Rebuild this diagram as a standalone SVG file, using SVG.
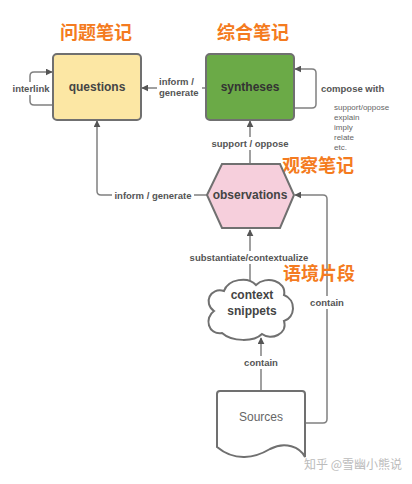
<svg xmlns="http://www.w3.org/2000/svg" width="412" height="484" viewBox="0 0 412 484">
<style>
.title{font-family:"Noto Sans CJK SC","Noto Sans",sans-serif;font-size:18px;font-weight:bold;fill:#F47B20;text-anchor:middle}
.node{font-family:"Liberation Sans",Arial,sans-serif;font-size:12px;font-weight:bold;fill:#444;text-anchor:middle}
.lbl{font-family:"Liberation Sans",Arial,sans-serif;font-size:9.5px;font-weight:bold;fill:#555}
.small{font-family:"Liberation Sans",Arial,sans-serif;font-size:8px;fill:#666}
.shape{stroke:#707070;stroke-width:2}
.conn{fill:none;stroke:#808080;stroke-width:1.5}
.bg{fill:#fff}
</style>
<defs>
<marker id="ah" viewBox="0 0 10 10" refX="9" refY="5" markerWidth="7" markerHeight="7" markerUnits="userSpaceOnUse" orient="auto">
<path d="M0,0 L10,5 L0,10 Z" fill="#555"/>
</marker>
</defs>
<rect width="412" height="484" fill="#fff"/>

<g id="connectors">
<path class="conn" d="M53 105 L34 105 Q30 105 30 101 L30 76 Q30 72 34 72 L52 72" marker-end="url(#ah)"/>
<path class="conn" d="M206 88 L142 88" marker-end="url(#ah)"/>
<path class="conn" d="M294 108 L312 108 Q316 108 316 104 L316 73 Q316 69 312 69 L295 69" marker-end="url(#ah)"/>
<path class="conn" d="M250 164 L250 121" marker-end="url(#ah)"/>
<path class="conn" d="M207 195 L101 195 Q97 195 97 191 L97 121" marker-end="url(#ah)"/>
<path class="conn" d="M305 423 L323 423 Q327 423 327 419 L327 199 Q327 195 323 195 L295 195" marker-end="url(#ah)"/>
<path class="conn" d="M250 281 L250 230" marker-end="url(#ah)"/>
<path class="conn" d="M261 391 L261 338" marker-end="url(#ah)"/>

<rect class="bg" x="11" y="82" width="40" height="13"/>
<text class="lbl" x="31" y="92" text-anchor="middle">interlink</text>
<rect class="bg" x="157" y="75" width="45" height="25"/>
<text class="lbl" x="159" y="85">inform /</text>
<text class="lbl" x="159" y="96">generate</text>
<text class="lbl" x="321" y="92">compose with</text>
<text class="small" x="334" y="110">support/oppose</text>
<text class="small" x="334" y="120">explain</text>
<text class="small" x="334" y="130">imply</text>
<text class="small" x="334" y="140">relate</text>
<text class="small" x="334" y="150">etc.</text>
<rect class="bg" x="209" y="137" width="82" height="13"/>
<text class="lbl" x="250" y="147" text-anchor="middle">support / oppose</text>
<rect class="bg" x="112" y="189" width="82" height="13"/>
<text class="lbl" x="153" y="199" text-anchor="middle">inform / generate</text>
<rect class="bg" x="188" y="251" width="122" height="13"/>
<text class="lbl" x="249" y="261" text-anchor="middle">substantiate/contextualize</text>
<rect class="bg" x="308" y="296" width="38" height="13"/>
<text class="lbl" x="327" y="306" text-anchor="middle">contain</text>
<rect class="bg" x="242" y="356" width="38" height="13"/>
<text class="lbl" x="261" y="366" text-anchor="middle">contain</text>
</g>

<g id="questions">
<text class="title" x="96" y="39">问题笔记</text>
<rect class="shape" x="53" y="54" width="88" height="66" rx="4" fill="#FCE7A4"/>
<text class="node" x="97" y="91">questions</text>
</g>

<g id="syntheses">
<text class="title" x="253" y="39">综合笔记</text>
<rect class="shape" x="206" y="54" width="88" height="66" rx="4" fill="#6BAA47"/>
<text class="node" x="250" y="91" fill="#2f3a2a" style="fill:#333">syntheses</text>
</g>

<g id="observations">
<text class="title" x="318" y="172">观察笔记</text>
<polygon class="shape" points="207,195 222,164 280,164 294,195 280,228 222,228" fill="#F6CFDC"/>
<text class="node" x="250" y="199">observations</text>
</g>

<g id="context-snippets">
<text class="title" x="319" y="280">语境片段</text>
<path class="shape" fill="#fff" d="M222 333 C208 335 204 318 214 311 C203 303 210 287 224 291 C228 279 248 276 256 285 C266 275 287 281 284 295 C297 300 295 318 284 321 C288 334 271 341 262 334 C254 342 232 342 222 333 Z" stroke-width="1.6"/>
<text class="node" x="252" y="299">context</text>
<text class="node" x="252" y="315">snippets</text>
</g>

<g id="sources">
<path class="shape" fill="#fff" stroke-width="1.6" d="M217 447 C235 462 255 458 270 449 C285 441 300 447 305 457 L305 394 Q305 391 302 391 L220 391 Q217 391 217 394 Z"/>
<text class="node" x="261" y="421" style="font-weight:normal;fill:#666">Sources</text>
</g>

<text x="353" y="469" text-anchor="middle" font-family="'Noto Sans CJK SC',sans-serif" font-size="12" fill="#bbb">知乎 @雪幽小熊说</text>
</svg>
